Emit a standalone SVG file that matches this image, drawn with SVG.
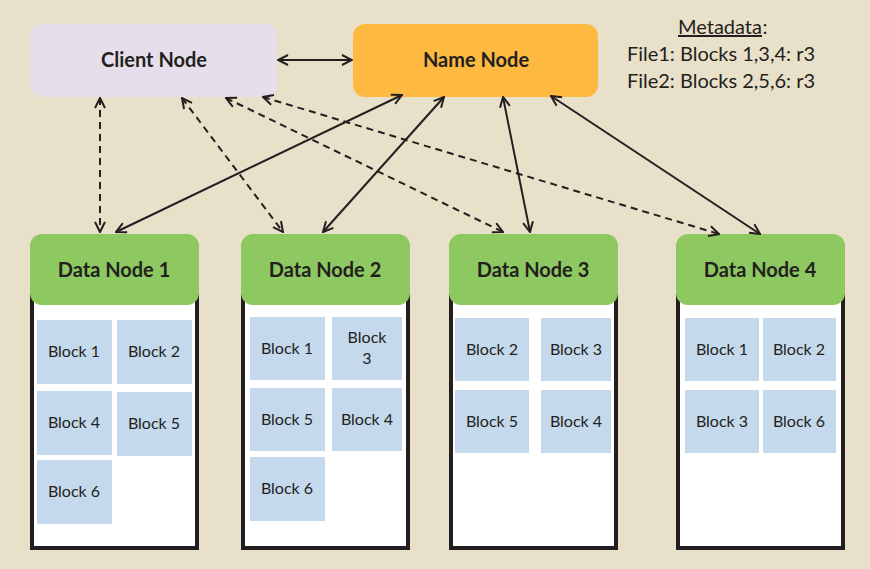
<svg xmlns="http://www.w3.org/2000/svg" width="870" height="569" viewBox="0 0 870 569">
<defs>
<marker id="ah" viewBox="0 0 12 12" refX="11" refY="6" markerWidth="12" markerHeight="12" markerUnits="userSpaceOnUse" orient="auto-start-reverse">
<path d="M1,1 L11,6 L1,11" fill="none" stroke="#231f20" stroke-width="2"/>
</marker>
<style>
text{font-family:Lato,"Open Sans",sans-serif;fill:#231f20}
.t{font-weight:bold;font-size:20px;text-anchor:middle}
.b{font-size:16px;text-anchor:middle}
.m{font-size:20px;text-anchor:middle}
.hd{fill:#8dc860}
.body{fill:#fff;stroke:#231f20;stroke-width:4}
.blk{fill:#c5d9ed}
.c{stroke:#231f20;stroke-width:2;fill:none;marker-start:url(#ah);marker-end:url(#ah)}
.d{stroke-dasharray:7,5}
</style>
</defs>
<rect width="870" height="569" fill="#e8e0c8"/>
<g id="client"><rect x="30" y="24" width="247" height="73" rx="12" fill="#e6dfeb"/><text class="t" x="154" y="67">Client Node</text></g>
<g id="name"><rect x="353" y="24" width="245" height="73" rx="12" fill="#fdb940"/><text class="t" x="476" y="67">Name Node</text></g>
<g id="meta">
<text class="m" x="720" y="34" text-decoration="underline">Metadata</text><text class="m" x="765" y="34">:</text>
<text class="m" x="721" y="61">File1: Blocks 1,3,4: r3</text>
<text class="m" x="721" y="88">File2: Blocks 2,5,6: r3</text>
</g>
<g id="dn1">
<rect class="body" x="32" y="280" width="165" height="268"/>
<rect class="hd" x="30" y="234" width="169" height="71" rx="12"/>
<text class="t" x="114" y="277">Data Node 1</text>
<rect class="blk" x="37" y="320" width="75" height="64"/><text class="b" x="74" y="357">Block 1</text>
<rect class="blk" x="117" y="320" width="75" height="64"/><text class="b" x="154" y="357">Block 2</text>
<rect class="blk" x="37" y="391" width="75" height="64"/><text class="b" x="74" y="428">Block 4</text>
<rect class="blk" x="117" y="392" width="75" height="64"/><text class="b" x="154" y="429">Block 5</text>
<rect class="blk" x="37" y="460" width="75" height="64"/><text class="b" x="74" y="497">Block 6</text>
</g>
<g id="dn2">
<rect class="body" x="243" y="280" width="165" height="268"/>
<rect class="hd" x="241" y="234" width="169" height="71" rx="12"/>
<text class="t" x="325" y="277">Data Node 2</text>
<rect class="blk" x="250" y="317" width="75" height="63"/><text class="b" x="287" y="354">Block 1</text>
<rect class="blk" x="332" y="317" width="70" height="63"/><text class="b" x="367" y="343">Block</text><text class="b" x="367" y="364">3</text>
<rect class="blk" x="250" y="388" width="75" height="63"/><text class="b" x="287" y="425">Block 5</text>
<rect class="blk" x="332" y="388" width="70" height="63"/><text class="b" x="367" y="425">Block 4</text>
<rect class="blk" x="250" y="457" width="75" height="64"/><text class="b" x="287" y="494">Block 6</text>
</g>
<g id="dn3">
<rect class="body" x="451" y="280" width="165" height="268"/>
<rect class="hd" x="449" y="234" width="169" height="71" rx="12"/>
<text class="t" x="533" y="277">Data Node 3</text>
<rect class="blk" x="455" y="318" width="74" height="63"/><text class="b" x="492" y="355">Block 2</text>
<rect class="blk" x="541" y="318" width="70" height="63"/><text class="b" x="576" y="355">Block 3</text>
<rect class="blk" x="455" y="390" width="74" height="63"/><text class="b" x="492" y="427">Block 5</text>
<rect class="blk" x="541" y="390" width="70" height="63"/><text class="b" x="576" y="427">Block 4</text>
</g>
<g id="dn4">
<rect class="body" x="678" y="280" width="165" height="268"/>
<rect class="hd" x="676" y="234" width="169" height="71" rx="12"/>
<text class="t" x="760" y="277">Data Node 4</text>
<rect class="blk" x="685" y="318" width="74" height="63"/><text class="b" x="722" y="355">Block 1</text>
<rect class="blk" x="763" y="318" width="73" height="63"/><text class="b" x="799" y="355">Block 2</text>
<rect class="blk" x="685" y="390" width="74" height="63"/><text class="b" x="722" y="427">Block 3</text>
<rect class="blk" x="763" y="390" width="73" height="63"/><text class="b" x="799" y="427">Block 6</text>
</g>
<g id="connectors">
<line class="c" x1="278" y1="60" x2="352" y2="60"/>
<line class="c d" x1="100" y1="98" x2="100" y2="232"/>
<line class="c d" x1="182" y1="98" x2="283" y2="232"/>
<line class="c d" x1="226" y1="98" x2="503" y2="232"/>
<line class="c d" x1="263" y1="97" x2="719" y2="234"/>
<line class="c" x1="402" y1="95" x2="116" y2="232"/>
<line class="c" x1="444" y1="97" x2="323" y2="232"/>
<line class="c" x1="503" y1="97" x2="530" y2="232"/>
<line class="c" x1="551" y1="96" x2="760" y2="234"/>
</g>
</svg>
